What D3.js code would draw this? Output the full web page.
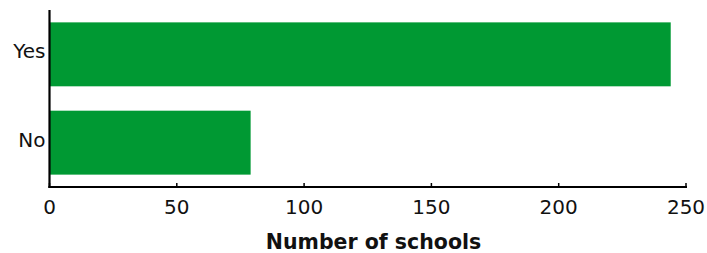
<!DOCTYPE html>
<html><head><meta charset="utf-8">
<script src="https://cdn.jsdelivr.net/npm/d3@7"></script>
<style>body{margin:0;background:#fff;}svg{display:block;font-family:"DejaVu Sans",sans-serif;}</style>
</head><body>
<svg id="c" width="707" height="253"></svg>
<script>
const categories = ["Yes", "No"];
const values = [244, 79];
const xTicks = [0, 50, 100, 150, 200, 250];
const xTitle = "Number of schools";

const svg = d3.select("#c");
const x = d3.scaleLinear().domain([0, 250]).range([49.5, 686]);
const y = d3.scaleBand().domain(categories).range([10, 187]).paddingInner(0.276).paddingOuter(0.14);

svg.selectAll("rect.bar").data(categories).enter().append("rect")
  .attr("class", "bar")
  .attr("x", x(0))
  .attr("y", d => y(d))
  .attr("width", (d, i) => x(values[i]) - x(0))
  .attr("height", y.bandwidth())
  .attr("fill", "#009933");

// y axis line
svg.append("line").attr("x1", x(0)).attr("x2", x(0)).attr("y1", 10).attr("y2", 188)
  .attr("stroke", "#000").attr("stroke-width", 2.2);
// x axis line
svg.append("line").attr("x1", x(0) - 1.1).attr("x2", x(250) + 1).attr("y1", 187).attr("y2", 187)
  .attr("stroke", "#000").attr("stroke-width", 2.2);

// x ticks
svg.selectAll("line.xt").data(xTicks).enter().append("line")
  .attr("class", "xt")
  .attr("x1", d => x(d)).attr("x2", d => x(d))
  .attr("y1", 183).attr("y2", 187)
  .attr("stroke", "#000").attr("stroke-width", 1.5);
svg.selectAll("text.xl").data(xTicks).enter().append("text")
  .attr("class", "xl")
  .attr("x", d => x(d)).attr("y", 214)
  .attr("text-anchor", "middle")
  .attr("font-size", 20)
  .attr("fill", "#111")
  .text(d => d);

// y labels
svg.selectAll("text.yl").data(categories).enter().append("text")
  .attr("class", "yl")
  .attr("x", x(0) - 4)
  .attr("y", d => y(d) + y.bandwidth() / 2 + 4)
  .attr("text-anchor", "end")
  .attr("font-size", 20)
  .attr("fill", "#111")
  .text(d => d);

svg.append("text")
  .attr("x", 373.5).attr("y", 249)
  .attr("text-anchor", "middle")
  .attr("font-size", 20.5)
  .attr("font-weight", "bold")
  .attr("fill", "#111")
  .text(xTitle);
</script>
</body></html>
